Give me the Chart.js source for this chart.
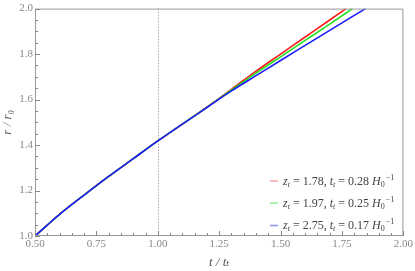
<!DOCTYPE html>
<html>
<head>
  <meta charset="UTF-8" />
  <title>r / r0 vs t / tt</title>
  <script src="https://cdn.jsdelivr.net/npm/chart.js"></script>
  <style>
    body { margin: 0; background: #fff; }
    #wrap { width: 415px; height: 271px; }
  </style>
</head>
<body>
  <div id="wrap"><canvas id="chart"></canvas></div>
  <script>
    const tRed   = [0.5, 0.55, 0.6, 0.7, 0.8, 0.9, 1.0, 1.1, 1.2, 1.3, 1.4, 1.5, 1.6, 1.7, 1.767];
    const rRed   = [1.0, 1.048, 1.095, 1.18, 1.262, 1.34, 1.418, 1.492, 1.567, 1.645, 1.725, 1.80, 1.875, 1.95, 2.0];
    const tGreen = [0.5, 0.55, 0.6, 0.7, 0.8, 0.9, 1.0, 1.1, 1.2, 1.3, 1.4, 1.5, 1.6, 1.7, 1.793];
    const rGreen = [1.0, 1.048, 1.095, 1.18, 1.262, 1.34, 1.418, 1.492, 1.566, 1.642, 1.716, 1.788, 1.86, 1.932, 2.0];
    const tBlue  = [0.5, 0.55, 0.6, 0.7, 0.8, 0.9, 1.0, 1.1, 1.2, 1.3, 1.4, 1.5, 1.6, 1.7, 1.8, 1.846];
    const rBlue  = [1.0, 1.048, 1.095, 1.18, 1.262, 1.34, 1.418, 1.492, 1.565, 1.638, 1.705, 1.772, 1.838, 1.904, 1.97, 2.0];

    const zLabels = ['1.78', '1.97', '2.75'];
    const tLabels = ['0.28', '0.25', '0.17'];
    const colors = ['#ff1a1a', '#22e022', '#1a1aff'];
    const legendColors = ['#f4a0a0', '#90ee90', '#9090f4'];

    const xMajor = [0.5, 0.75, 1.0, 1.25, 1.5, 1.75, 2.0];
    const yMajor = [1.0, 1.2, 1.4, 1.6, 1.8, 2.0];

    const SERIF = '"Liberation Serif", "DejaVu Serif", serif';
    const zip = (xs, ys) => xs.map((x, i) => ({ x: x, y: ys[i] }));

    const series = [
      { label: 'red', data: zip(tRed, rRed), order: 2 },
      { label: 'green', data: zip(tGreen, rGreen), order: 1 },
      { label: 'blue', data: zip(tBlue, rBlue), order: 0 }
    ];

    // frame, inward ticks, dotted line at t = 1 and the legend
    const frame = {
      id: 'frame',
      beforeDatasetsDraw(chart) {
        const { ctx, chartArea: a, scales: { x } } = chart;
        ctx.save();
        ctx.strokeStyle = '#aaa';
        ctx.lineWidth = 1;
        ctx.setLineDash([1.5, 1.5]);
        const px = Math.round(x.getPixelForValue(1.0)) + 0.5;
        ctx.beginPath();
        ctx.moveTo(px, a.top);
        ctx.lineTo(px, a.bottom);
        ctx.stroke();
        ctx.restore();
      },
      afterDraw(chart) {
        const { ctx, chartArea: a, scales: { x, y } } = chart;
        ctx.save();
        ctx.strokeStyle = '#999';
        ctx.lineWidth = 1;
        ctx.strokeRect(a.left + 0.5, a.top + 0.5, a.right - a.left - 1, a.bottom - a.top - 1);
        ctx.strokeStyle = '#888';
        ctx.beginPath();
        for (let v = 0.5; v <= 2.0001; v += 0.05) {
          const major = Math.abs(v / 0.25 - Math.round(v / 0.25)) < 0.01;
          const px = Math.round(x.getPixelForValue(v)) + 0.5;
          ctx.moveTo(px, a.bottom);
          ctx.lineTo(px, a.bottom - (major ? 5 : 3));
        }
        for (let v = 1.0; v <= 2.0001; v += 0.05) {
          const major = Math.abs(v / 0.2 - Math.round(v / 0.2)) < 0.01;
          const py = Math.round(y.getPixelForValue(v)) + 0.5;
          ctx.moveTo(a.left, py);
          ctx.lineTo(a.left + (major ? 5 : 3), py);
        }
        ctx.stroke();

        // legend
        const rowY = [184.5, 206.5, 229];
        ctx.textBaseline = 'alphabetic';
        const it = 'italic 12px ' + SERIF, rm = '12px ' + SERIF, sm = '8px ' + SERIF, ism = 'italic 8px ' + SERIF;
        for (let i = 0; i < zLabels.length; i++) {
          const by = rowY[i];
          ctx.strokeStyle = legendColors[i];
          ctx.lineWidth = 1.5;
          ctx.beginPath();
          ctx.moveTo(270, by - 3.5);
          ctx.lineTo(278, by - 3.5);
          ctx.stroke();
          ctx.fillStyle = '#444';
          let cx = 283;
          const seg = (txt, font, dy) => {
            ctx.font = font;
            ctx.fillText(txt, cx, by + (dy || 0));
            cx += ctx.measureText(txt).width;
          };
          seg('z', it);
          seg('t', ism, 2);
          seg(' = ' + zLabels[i] + ', ', rm);
          seg('t', it);
          seg('t', ism, 2);
          seg(' = ' + tLabels[i] + ' ', rm);
          seg('H', it);
          const hx = cx;
          seg('0', sm, 2);
          cx = hx + 5;
          seg('\u22121', sm, -5);
        }
        ctx.restore();
      }
    };

    new Chart(document.getElementById('chart'), {
      type: 'scatter',
      data: {
        datasets: series.map((s, i) => ({
          label: s.label,
          data: s.data,
          order: s.order,
          showLine: true,
          borderColor: colors[i],
          borderWidth: 1.6,
          pointRadius: 0,
          tension: 0.4,
          cubicInterpolationMode: 'monotone',
          fill: false
        }))
      },
      options: {
        responsive: true,
        maintainAspectRatio: false,
        animation: false,
        layout: { padding: { top: 7, right: 10, left: 0, bottom: 0 } },
        plugins: { legend: { display: false }, tooltip: { enabled: false } },
        scales: {
          x: {
            type: 'linear',
            min: 0.5,
            max: 2.0,
            afterBuildTicks: (s) => { s.ticks = xMajor.map(v => ({ value: v })); },
            afterFit: (s) => { s.height = 35; },
            grid: { display: false, drawTicks: false },
            border: { display: false },
            ticks: {
              color: '#888',
              padding: 2,
              font: { family: SERIF, size: 11 },
              callback: (v) => v.toFixed(2)
            },
            title: {
              display: true,
              text: 't / t\u209c',
              color: '#555',
              padding: { top: 0, bottom: 1 },
              font: { family: SERIF, size: 13, style: 'italic' }
            }
          },
          y: {
            min: 1.0,
            max: 2.0,
            afterBuildTicks: (s) => { s.ticks = yMajor.map(v => ({ value: v })); },
            afterFit: (s) => { s.width = 35; },
            grid: { display: false, drawTicks: false },
            border: { display: false },
            ticks: {
              color: '#888',
              padding: 2,
              font: { family: SERIF, size: 11 },
              callback: (v) => v.toFixed(1)
            },
            title: {
              display: true,
              text: 'r / r\u2080',
              color: '#555',
              padding: { top: 0, bottom: 0 },
              font: { family: SERIF, size: 13, style: 'italic' }
            }
          }
        }
      },
      plugins: [frame]
    });
  </script>
</body>
</html>
